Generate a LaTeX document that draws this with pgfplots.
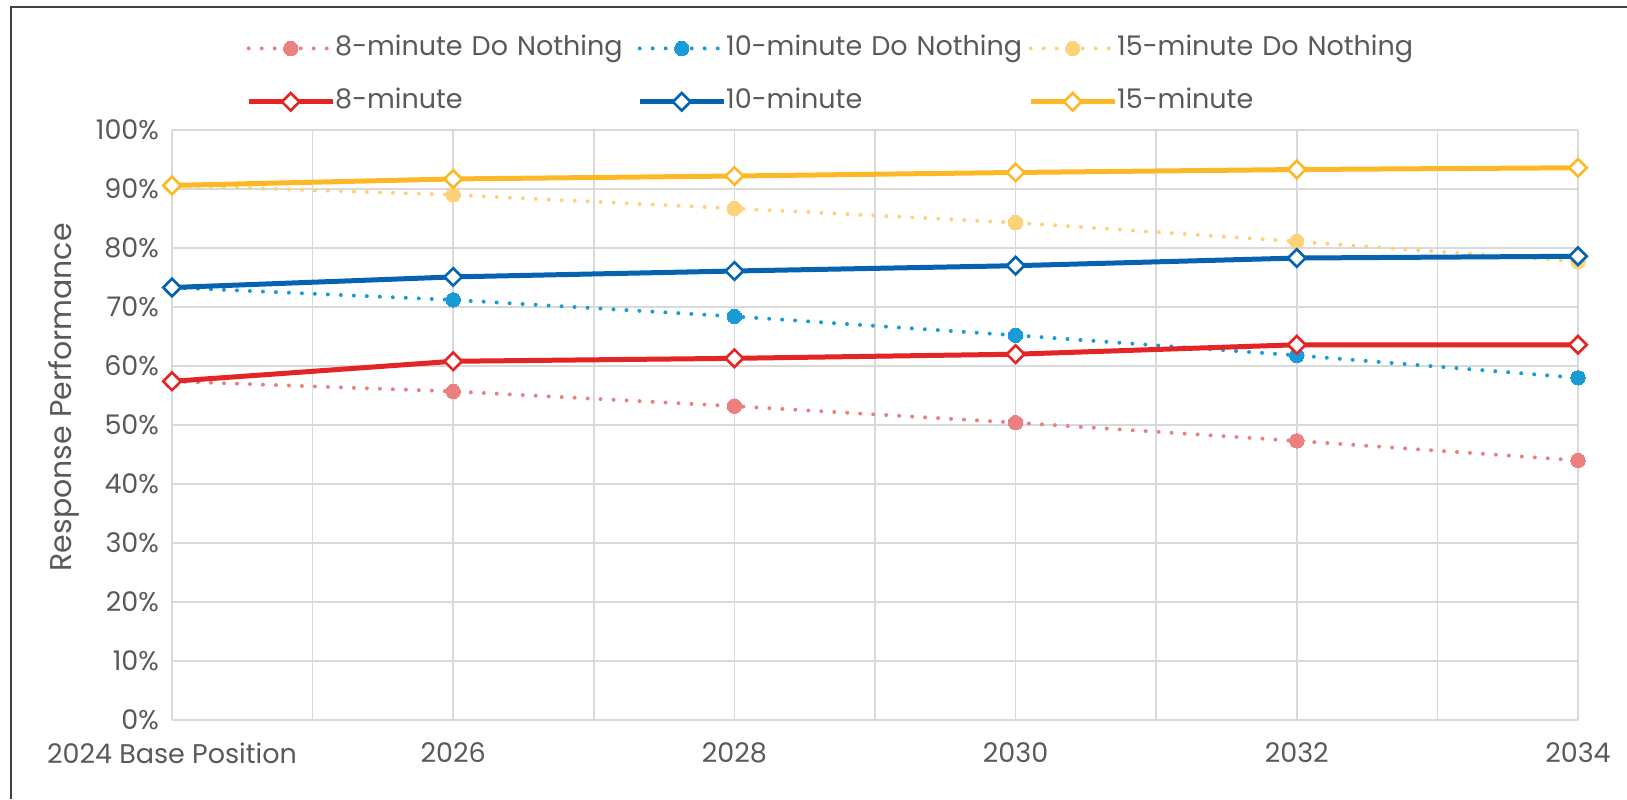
\documentclass[border=0pt]{standalone}
\usepackage{pgfplots}
\pgfplotsset{compat=1.18}
\usepackage{fontspec}
\setmainfont{Poppins}
\definecolor{txt}{HTML}{595959}
\definecolor{gridc}{HTML}{D9D9D9}
\definecolor{cred}{HTML}{E32526}
\definecolor{cblue}{HTML}{0563B0}
\definecolor{cyel}{HTML}{FDB827}
\definecolor{lred}{HTML}{EC8080}
\definecolor{lblue}{HTML}{1A9AD6}
\definecolor{lyel}{HTML}{FDD37A}
\begin{document}
\begin{tikzpicture}
\path[use as bounding box] (-86pt,-39.5pt) rectangle (727.5pt,360pt);
\draw[color=black!75, line width=1.25pt] (-80.5pt,-39.5pt) -- (-80.5pt,356.5pt) -- (727.5pt,356.5pt);
\begin{axis}[
  at={(0pt,0pt)}, anchor=south west,
  scale only axis, width=703pt, height=295pt,
  xmin=0, xmax=10, ymin=0, ymax=100,
  xtick={0,2,4,6,8,10},
  xticklabels={2024 Base Position,2026,2028,2030,2032,2034},
  minor xtick={1,3,5,7,9},
  ytick={0,10,...,100},
  yticklabel={\pgfmathprintnumber{\tick}\%},
  /pgf/number format/assume math mode=true,
  xmajorgrids, xminorgrids, ymajorgrids,
  grid style={gridc, line width=0.75pt},
  minor grid style={gridc, line width=0.75pt},
  axis line style={draw=none},
  major tick length=0pt, minor tick length=0pt,
  tick label style={font=\fontsize{13.5}{15}\selectfont, text=txt},
  xticklabel style={yshift=-8pt},
  yticklabel style={xshift=-3pt},
  ylabel={Response Performance},
  ylabel style={at={(axis description cs:-0.077,0.547)}, anchor=center, rotate=0,
     font=\fontsize{15}{17}\selectfont, text=txt},
  clip=false,
  legend columns=3,
  legend style={at={(axis description cs:0.0525,1.161)}, anchor=north west, draw=none, fill=none,
     font=\fontsize{13.5}{15}\selectfont, text=txt, inner sep=0pt,
     /tikz/every even column/.append style={column sep=0pt},
     row sep=13.7pt,
     nodes={text width=151pt, align=left, inner xsep=0pt, inner ysep=0pt, text height=10pt, text depth=3pt}},
  legend cell align=left,
  legend image code/.code={\draw[#1, mark repeat=2, mark phase=2] plot coordinates {(0pt,0pt)(21pt,0pt)(42pt,0pt)};},
  dn/.style={line width=2pt, dash pattern=on 0pt off 6.5pt, line cap=round,
     mark=*, mark size=3.6pt, mark options={solid, line width=0pt}},
  sol/.style={line width=2.5pt, mark=square*, mark size=3.1pt,
     mark options={solid, rotate=45, fill=white, line width=1.3pt}},
]
\addplot[dn, color=lred] coordinates {(0,57.4)(2,55.7)(4,53.2)(6,50.4)(8,47.3)(10,44.0)};
\addlegendentry{8-minute Do Nothing}
\addplot[dn, color=lblue] coordinates {(0,73.3)(2,71.2)(4,68.4)(6,65.2)(8,61.8)(10,58.0)};
\addlegendentry{10-minute Do Nothing}
\addplot[dn, color=lyel] coordinates {(0,90.6)(2,89.0)(4,86.7)(6,84.3)(8,81.1)(10,77.7)};
\addlegendentry{15-minute Do Nothing}
\addplot[sol, color=cred] coordinates {(0,57.4)(2,60.8)(4,61.3)(6,62.0)(8,63.6)(10,63.6)};
\addlegendentry{8-minute}
\addplot[sol, color=cblue] coordinates {(0,73.3)(2,75.1)(4,76.1)(6,77.0)(8,78.3)(10,78.6)};
\addlegendentry{10-minute}
\addplot[sol, color=cyel] coordinates {(0,90.6)(2,91.7)(4,92.2)(6,92.8)(8,93.3)(10,93.6)};
\addlegendentry{15-minute}
\end{axis}
\end{tikzpicture}
\end{document}
